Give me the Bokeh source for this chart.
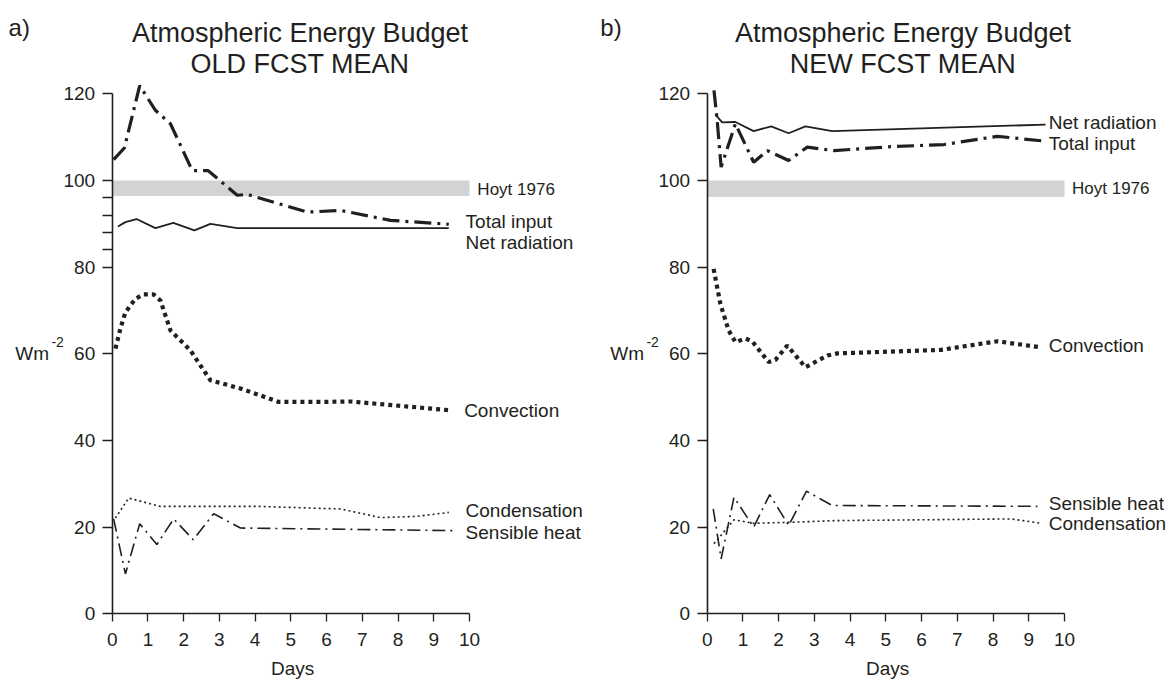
from bokeh.plotting import figure
from bokeh.layouts import row
from bokeh.models import Label, FixedTicker, Range1d
from bokeh.embed import file_html
from bokeh.resources import INLINE

# ---------------- data ----------------
x_ticks = [0, 1, 2, 3, 4, 5, 6, 7, 8, 9, 10]
y_ticks_old = [0, 20, 40, 60, 80, 84, 88, 92, 96, 100, 120]
y_ticks_new = [0, 20, 40, 60, 80, 100, 120]
y_minor_unlabelled = [84, 88, 92, 96]

hoyt_low_old = 96.4
hoyt_low_new = 96.2
hoyt_high = 100.0
hoyt_x_end = 10.0

# OLD FCST MEAN
old_total_days = [0.04, 0.34, 0.77, 1.21, 1.63, 2.24, 2.68, 3.50, 3.78, 5.46, 6.39, 7.79, 9.42]
old_total = [104.8, 107.5, 121.9, 116.2, 113.1, 102.3, 102.3, 96.6, 96.8, 92.7, 93.1, 90.8, 89.9]

old_netrad_days = [0.16, 0.37, 0.68, 1.21, 1.71, 2.30, 2.75, 3.50, 9.42]
old_netrad = [89.4, 90.4, 91.1, 89.0, 90.2, 88.5, 90.0, 89.0, 89.0]

old_conv_days = [0.09, 0.23, 0.37, 0.65, 0.88, 1.16, 1.35, 1.63, 2.19, 2.47, 2.75, 3.59, 4.66, 5.80, 6.67, 9.42]
old_conv = [61.2, 65.8, 69.6, 72.7, 73.7, 73.7, 72.3, 65.4, 60.8, 57.3, 53.9, 52.0, 48.9, 48.9, 49.0, 47.0]

old_cond_days = [0.09, 0.46, 1.35, 4.05, 6.39, 7.51, 8.54, 9.42]
old_cond = [22.1, 26.7, 24.8, 24.8, 24.2, 22.2, 22.5, 23.4]

old_sens_days = [0.04, 0.37, 0.77, 1.25, 1.72, 2.27, 2.84, 3.59, 9.52]
old_sens = [21.9, 9.2, 20.8, 16.0, 21.9, 17.1, 23.1, 19.8, 19.2]

# NEW FCST MEAN
new_total_days = [0.19, 0.28, 0.39, 0.79, 1.30, 1.68, 2.28, 2.80, 3.55, 5.13, 6.63, 8.12, 9.43]
new_total = [120.8, 113.8, 103.1, 113.1, 104.2, 106.9, 104.6, 107.7, 106.9, 107.8, 108.3, 110.2, 109.1]

new_netrad_days = [0.23, 0.42, 0.79, 1.30, 1.79, 2.28, 2.75, 3.50, 9.47]
new_netrad = [115.2, 113.4, 113.5, 111.4, 112.5, 110.9, 112.5, 111.4, 112.9]

new_conv_days = [0.18, 0.37, 0.60, 0.79, 1.07, 1.26, 1.72, 1.91, 2.24, 2.75, 3.36, 3.64, 6.53, 8.12, 9.33]
new_conv = [79.6, 71.5, 65.4, 62.7, 63.5, 62.9, 58.1, 58.6, 61.9, 56.9, 59.6, 60.1, 60.9, 62.9, 61.5]

new_sens_days = [0.17, 0.39, 0.75, 1.30, 1.75, 2.28, 2.78, 3.50, 9.24]
new_sens = [24.2, 12.7, 26.9, 20.0, 27.5, 20.4, 28.3, 25.0, 24.8]

new_cond_days = [0.19, 0.75, 1.30, 2.28, 3.55, 8.50, 9.34]
new_cond = [16.2, 21.7, 20.9, 21.1, 21.5, 21.9, 20.9]

title_line1 = "Atmospheric Energy Budget"
title_old = "OLD FCST MEAN"
title_new = "NEW FCST MEAN"

# ---------------- style ----------------
FONT = "Liberation Sans"
INK = "#231f20"
HOYT = "#d1d3d4"
HEIGHT = 680
Y_START, Y_END = -15.39, 141.54


def make_fig(width, x_start, x_end, yticks):
    p = figure(width=width, height=HEIGHT, x_range=Range1d(x_start, x_end),
               y_range=Range1d(Y_START, Y_END),
               output_backend="svg", toolbar_location=None, title=None, min_border=0)
    p.xgrid.visible = False
    p.ygrid.visible = False
    p.outline_line_color = None
    p.background_fill_color = "white"
    p.border_fill_color = "white"

    p.xaxis.fixed_location = 0
    p.yaxis.fixed_location = 0
    p.xaxis.bounds = (0, 10)
    p.xaxis.ticker = FixedTicker(ticks=x_ticks)
    p.yaxis.bounds = (0, 120)
    p.yaxis.ticker = FixedTicker(ticks=yticks)
    p.yaxis.major_label_overrides = {v: "" for v in y_minor_unlabelled}
    for ax in (p.xaxis, p.yaxis):
        ax.axis_line_width = 1.6
        ax.axis_line_color = INK
        ax.major_tick_line_color = INK
        ax.major_tick_line_width = 1.3
        ax.minor_tick_line_color = None
        ax.major_tick_in = 0
        ax.major_label_text_font = FONT
        ax.major_label_text_font_size = "19px"
        ax.major_label_text_color = INK
    p.xaxis.major_tick_out = 8
    p.xaxis.major_label_standoff = 11
    p.yaxis.major_tick_out = 10
    p.yaxis.major_label_standoff = 7
    return p


def add_text(p, x, y, text, size="19px", align="left"):
    p.add_layout(Label(x=x, y=y, text=text, text_font=FONT, text_font_size=size,
                       text_color=INK, text_align=align, text_baseline="middle"))


def draw_series(p, total_d, total, net_d, net, conv_d, conv, cond_d, cond, sens_d, sens, hoyt_low):
    p.quad(left=[0], right=[hoyt_x_end], bottom=[hoyt_low], top=[hoyt_high],
           fill_color=HOYT, line_color=None)
    p.line(net_d, net, line_color=INK, line_width=1.8)
    p.line(total_d, total, line_color=INK, line_width=3.2, line_dash="17 6 3 6")
    p.line(conv_d, conv, line_color=INK, line_width=4.2, line_dash="4 4")
    p.line(cond_d, cond, line_color=INK, line_width=1.6, line_dash="2 3")
    p.line(sens_d, sens, line_color=INK, line_width=1.6, line_dash="13 5 2 5")


def common_texts(p, title_x, title2, tag, tag_x):
    add_text(p, title_x, 134.0, title_line1, size="27px", align="center")
    add_text(p, title_x, 127.0, title2, size="27px", align="center")
    add_text(p, tag_x, 135.3, tag, size="24px")
    add_text(p, -2.71, 60.0, "Wm", size="19px")
    add_text(p, -1.70, 62.8, "-2", size="14px")
    add_text(p, 5.05, -12.6, "Days", align="center")


# ---------------- left panel ----------------
p1 = make_fig(596, -3.126, 13.554, y_ticks_old)
draw_series(p1, old_total_days, old_total, old_netrad_days, old_netrad,
            old_conv_days, old_conv, old_cond_days, old_cond, old_sens_days, old_sens, hoyt_low_old)
common_texts(p1, 5.256, title_old, "a)", -2.90)
add_text(p1, 10.22, 98.0, "Hoyt 1976", size="17px")
add_text(p1, 9.89, 90.5, "Total input")
add_text(p1, 9.89, 85.8, "Net radiation")
add_text(p1, 9.85, 47.0, "Convection")
add_text(p1, 9.89, 23.9, "Condensation")
add_text(p1, 9.89, 18.8, "Sensible heat")

# ---------------- right panel ----------------
p2 = make_fig(574, -3.098, 12.967, y_ticks_new)
draw_series(p2, new_total_days, new_total, new_netrad_days, new_netrad,
            new_conv_days, new_conv, new_cond_days, new_cond, new_sens_days, new_sens, hoyt_low_new)
common_texts(p2, 5.48, title_new, "b)", -2.99)
add_text(p2, 10.21, 98.2, "Hoyt 1976", size="17px")
add_text(p2, 9.56, 113.5, "Net radiation")
add_text(p2, 9.56, 108.5, "Total input")
add_text(p2, 9.56, 61.9, "Convection")
add_text(p2, 9.56, 25.4, "Sensible heat")
add_text(p2, 9.56, 20.8, "Condensation")

layout = row(p1, p2)
open("out.html", "w").write(file_html(layout, INLINE))
